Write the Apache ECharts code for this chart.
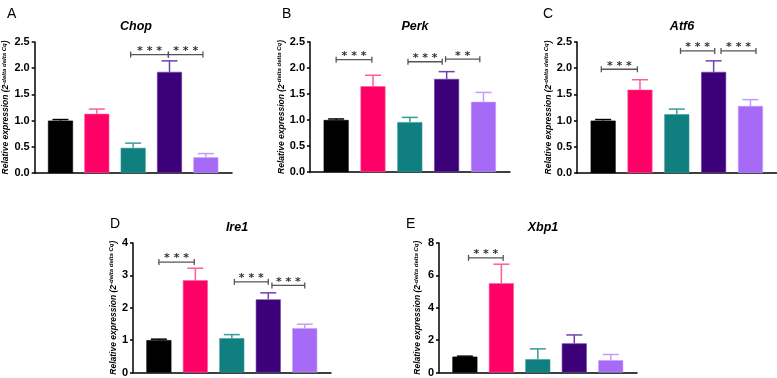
<!DOCTYPE html>
<html>
<head>
<meta charset="utf-8">
<script src="https://cdn.jsdelivr.net/npm/echarts@6/dist/echarts.min.js"></script>
<style>
  html, body { margin: 0; padding: 0; background: #fff; }
  #chart { width: 777px; height: 378px; }
</style>
</head>
<body>
<div id="chart"></div>
<script>
// group positions along x (0..4), one bar per group
const groupPos = [0, 1, 2, 3, 4]
const barColors = ['#000000', '#ff0066', '#0f7f7f', '#3c0078', '#a66af6']
const errColors = ['#000000', '#ff5c98', '#3a9a9a', '#7040b0', '#c49cff']

const panelLetters = ['A', 'B', 'C', 'D', 'E']
const panelTitles = ['Chop', 'Perk', 'Atf6', 'Ire1', 'Xbp1']

// means and upper error (SEM) per panel
const chopMean = [1.0, 1.13, 0.48, 1.93, 0.30]
const chopErr = [0.02, 0.09, 0.09, 0.21, 0.07]
const perkMean = [1.0, 1.65, 0.96, 1.79, 1.35]
const perkErr = [0.02, 0.21, 0.09, 0.14, 0.18]
const atf6Mean = [1.0, 1.59, 1.12, 1.93, 1.28]
const atf6Err = [0.02, 0.19, 0.10, 0.21, 0.12]
const ire1Mean = [1.0, 2.85, 1.06, 2.26, 1.37]
const ire1Err = [0.03, 0.37, 0.11, 0.20, 0.12]
const xbp1Mean = [0.98, 5.52, 0.82, 1.80, 0.76]
const xbp1Err = [0.03, 1.17, 0.64, 0.52, 0.35]

// significance brackets: [from, to, height, stars]
const chopSig = [[1.93, 2.97, 2.26, '* * *'], [2.97, 3.92, 2.26, '* * *']]
const perkSig = [[0, 0.97, 2.16, '* * *'], [1.95, 2.88, 2.12, '* * *'], [2.97, 3.9, 2.17, '* *']]
const atf6Sig = [[-0.05, 0.93, 1.98, '* * *'], [2.1, 3.03, 2.33, '* * *'], [3.2, 4.15, 2.33, '* * *']]
const ire1Sig = [[0, 0.97, 3.41, '* * *'], [2.07, 3.0, 2.80, '* * *'], [3.1, 4.0, 2.69, '* * *']]
const xbp1Sig = [[0.1, 1.05, 7.08, '* * *']]

// y axis ticks
const yMax = [2.5, 2.5, 2.5, 4, 8]
const yStep = [0.5, 0.5, 0.5, 1, 2]
const yDecimals = [1, 1, 1, 0, 0]

const means = [chopMean, perkMean, atf6Mean, ire1Mean, xbp1Mean]
const errs = [chopErr, perkErr, atf6Err, ire1Err, xbp1Err]
const sigs = [chopSig, perkSig, atf6Sig, ire1Sig, xbp1Sig]

// layout in px
const grids = [
  { left: 30, top: 42, width: 202, height: 131 },
  { left: 310, top: 42, width: 200, height: 130 },
  { left: 577, top: 42, width: 200, height: 131 },
  { left: 133, top: 243, width: 198, height: 131 },
  { left: 439, top: 243, width: 198, height: 130 }
]
const nameGaps = [20, 21, 20, 12, 16]
const letterPos = [[2, 2], [277, 2], [538, 2], [105, 212], [401, 212]]

const option = {
  backgroundColor: '#fff',
  animation: false,
  title: [],
  grid: grids.map(g => Object.assign({ containLabel: false }, g)),
  xAxis: [],
  yAxis: [],
  series: []
}

grids.forEach((g, i) => {
  option.title.push({
    text: panelLetters[i],
    left: letterPos[i][0],
    top: letterPos[i][1],
    textStyle: { fontFamily: 'Liberation Sans', fontSize: 14, fontWeight: 'normal', color: '#000' }
  })
  option.title.push({
    text: panelTitles[i],
    left: g.left + g.width / 2,
    top: g.top - 27,
    textAlign: 'center',
    textStyle: { fontFamily: 'Liberation Sans', fontSize: 12.5, fontWeight: 'bold', fontStyle: 'italic', color: '#000' }
  })

  option.xAxis.push({
    gridIndex: i,
    type: 'value',
    min: -0.71,
    max: 4.72,
    axisLine: { show: true, onZero: false, lineStyle: { color: '#000', width: 1.5 } },
    axisTick: { show: false },
    axisLabel: { show: false },
    splitLine: { show: false }
  })

  option.yAxis.push({
    gridIndex: i,
    type: 'value',
    min: 0,
    max: yMax[i],
    interval: yStep[i],
    name: 'Relative expression (2{sup|-delta delta Cq})',
    nameLocation: 'middle',
    nameRotate: 90,
    nameGap: nameGaps[i],
    nameTextStyle: {
      fontFamily: 'Liberation Sans',
      fontSize: 8.5,
      fontWeight: 'bold',
      fontStyle: 'italic',
      color: '#000',
      rich: {
        sup: {
          fontFamily: 'Liberation Sans',
          fontSize: 6,
          fontWeight: 'bold',
          fontStyle: 'italic',
          color: '#000',
          verticalAlign: 'top',
          padding: [0, 0, 4, 0]
        }
      }
    },
    axisLine: { show: true, onZero: false, lineStyle: { color: '#000', width: 1.5 } },
    axisTick: { show: true, length: 3, lineStyle: { color: '#000', width: 1.5 } },
    axisLabel: {
      margin: 5,
      fontFamily: 'Liberation Sans',
      fontSize: 11,
      fontWeight: 'bold',
      color: '#000',
      formatter: v => v.toFixed(yDecimals[i])
    },
    splitLine: { show: false }
  })

  // bars
  option.series.push({
    type: 'bar',
    xAxisIndex: i,
    yAxisIndex: i,
    barWidth: 25,
    z: 3,
    data: groupPos.map((x, k) => ({
      value: [x, means[i][k]],
      itemStyle: { color: barColors[k], borderColor: errColors[k], borderWidth: 0.6 }
    }))
  })

  // error bars (upper only)
  option.series.push({
    type: 'custom',
    xAxisIndex: i,
    yAxisIndex: i,
    z: 2,
    encode: { x: 0, y: [1, 2] },
    data: groupPos.map((x, k) => [x, means[i][k], means[i][k] + errs[i][k], k]),
    renderItem: (params, api) => {
      const base = api.coord([api.value(0), api.value(1)])
      const top = api.coord([api.value(0), api.value(2)])
      const c = errColors[api.value(3)]
      const style = { stroke: c, lineWidth: 1.5 }
      return {
        type: 'group',
        children: [
          { type: 'line', shape: { x1: base[0], y1: base[1], x2: top[0], y2: top[1] }, style },
          { type: 'line', shape: { x1: top[0] - 8, y1: top[1], x2: top[0] + 8, y2: top[1] }, style }
        ]
      }
    }
  })

  // significance brackets
  option.series.push({
    type: 'custom',
    xAxisIndex: i,
    yAxisIndex: i,
    z: 4,
    encode: { x: [0, 1], y: 2 },
    data: sigs[i],
    renderItem: (params, api) => {
      const a = api.coord([api.value(0), api.value(2)])
      const b = api.coord([api.value(1), api.value(2)])
      const style = { stroke: '#555', lineWidth: 1.3 }
      return {
        type: 'group',
        children: [
          { type: 'line', shape: { x1: a[0], y1: a[1], x2: b[0], y2: b[1] }, style },
          { type: 'line', shape: { x1: a[0], y1: a[1] - 3, x2: a[0], y2: a[1] + 3 }, style },
          { type: 'line', shape: { x1: b[0], y1: b[1] - 3, x2: b[0], y2: b[1] + 3 }, style },
          {
            type: 'text',
            style: {
              x: (a[0] + b[0]) / 2,
              y: a[1] + 2,
              text: sigs[i][params.dataIndex][3],
              align: 'center',
              verticalAlign: 'bottom',
              fontFamily: 'DejaVu Sans',
              fontSize: 11,
              fontWeight: 'bold',
              fill: '#333'
            }
          }
        ]
      }
    }
  })
})

const chart = echarts.init(document.getElementById('chart'), null, { renderer: 'canvas' })
chart.setOption(option)
</script>
</body>
</html>
